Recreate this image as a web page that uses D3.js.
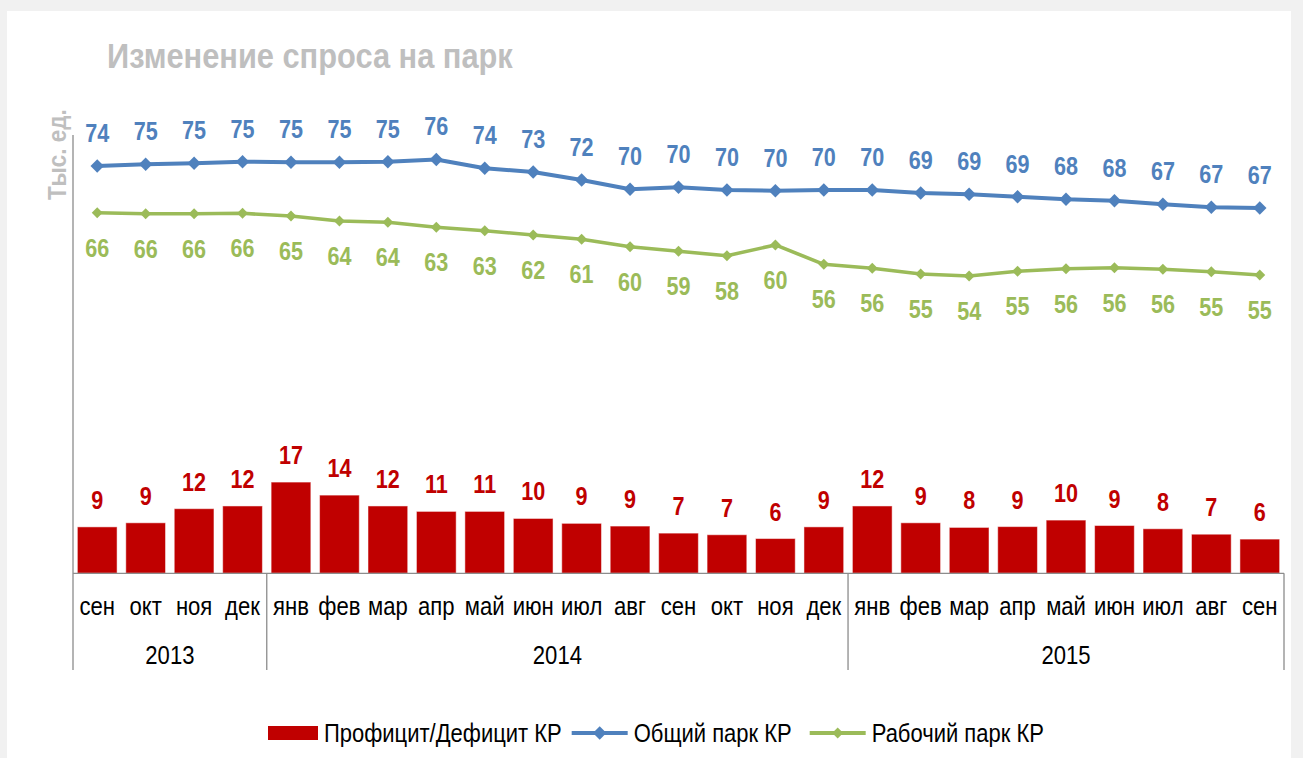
<!DOCTYPE html>
<html lang="ru">
<head>
<meta charset="utf-8">
<title>Изменение спроса на парк</title>
<script src="https://cdn.jsdelivr.net/npm/d3@7"></script>
<style>
  body { margin: 0; background: #f1f1f1; }
  svg { display: block; }
  text { font-family: "Liberation Sans Narrow", "Arial Narrow", "Liberation Sans", Arial, sans-serif; }
</style>
</head>
<body>
<svg width="1303" height="758"></svg>
<script>
// months Sep 2013 .. Sep 2015
var months = ["сен", "окт", "ноя", "дек",
              "янв", "фев", "мар", "апр", "май", "июн", "июл", "авг", "сен", "окт", "ноя", "дек",
              "янв", "фев", "мар", "апр", "май", "июн", "июл", "авг", "сен"];
var years = ["2013", "2014", "2015"];
var yearMonths = [4, 12, 9];

// тыс. ед.
var surplus = [8.55, 9.3, 11.9, 12.4, 16.8, 14.4, 12.4, 11.4, 11.4, 10.1, 9.2, 8.7, 7.4,
               7.1, 6.4, 8.55, 12.4, 9.3, 8.45, 8.6, 9.8, 8.8, 8.2, 7.2, 6.3];
var totalFleet = [74.35, 74.66, 74.85, 75.14, 75.03, 75.03, 75.14, 75.55, 73.94, 73.26, 71.81, 70.12, 70.48,
                  69.99, 69.86, 69.99, 69.99, 69.45, 69.21, 68.77, 68.3, 68.05, 67.39, 66.85, 66.72];
var workingFleet = [65.86, 65.68, 65.68, 65.75, 65.26, 64.35, 64.12, 63.21, 62.59, 61.81, 61.03, 59.68, 58.85,
                    58.05, 60.0, 56.48, 55.75, 54.72, 54.35, 55.21, 55.68, 55.86, 55.57, 55.14, 54.54];

var legendNames = ["Профицит/Дефицит КР", "Общий парк КР", "Рабочий парк КР"];

var red = "#c00000", blue = "#4f81bd", green = "#9bbb59", grey = "#bfbfbf", axisGrey = "#8c8c8c";

var svg = d3.select("svg");

// no narrow font in the sandbox -> squeeze regular text horizontally
var narrow = 0.83;
function at(px, py, k) {
  return "translate(" + px + "," + py + ") scale(" + (k || narrow) + ",1)";
}

svg.append("rect")
    .attr("x", 7).attr("y", 11)
    .attr("width", 1284).attr("height", 760)
    .attr("fill", "#fff");

var left = 73, right = 1284, base = 573.3, catBottom = 670;

var x = d3.scaleBand()
    .domain(d3.range(months.length))
    .range([left, right])
    .paddingInner(0.18)
    .paddingOuter(0.09);

var yBar = d3.scaleLinear().domain([0, 80]).range([base, base - 80 * 5.43]);
var yLine = d3.scaleLinear().domain([74.5, 54.5]).range([165.2, 165.2 + 20 * 5.5]);

var cx = function(i) { return x(i) + x.bandwidth() / 2; };

// title
svg.append("text")
    .attr("transform", at(107, 68, 0.88))
    .attr("fill", grey)
    .attr("font-size", 35).attr("font-weight", "bold")
    .text("Изменение спроса на парк");

svg.append("text")
    .attr("transform", "translate(66,200) rotate(-90) scale(0.9,1)")
    .attr("fill", grey)
    .attr("font-size", 25).attr("font-weight", "bold")
    .text("Тыс. ед.");

// bars
svg.append("g").selectAll("rect")
    .data(surplus)
  .enter().append("rect")
    .attr("x", function(d, i) { return x(i); })
    .attr("y", function(d) { return yBar(d); })
    .attr("width", x.bandwidth())
    .attr("height", function(d) { return base - yBar(d); })
    .attr("fill", red)
    .attr("stroke", "#fff").attr("stroke-opacity", 0.5);

svg.append("g").selectAll("text")
    .data(surplus)
  .enter().append("text")
    .attr("transform", function(d, i) { return at(cx(i), yBar(d) - 18); })
    .attr("text-anchor", "middle")
    .attr("fill", red)
    .attr("font-size", 26).attr("font-weight", "bold")
    .text(function(d) { return Math.round(d); });

// axes
var ax = svg.append("g").attr("stroke", axisGrey).attr("stroke-width", 1.3);
ax.append("line").attr("x1", left).attr("x2", left).attr("y1", 135).attr("y2", catBottom);
ax.append("line").attr("x1", left).attr("x2", right).attr("y1", base).attr("y2", base);
var acc = 0;
yearMonths.forEach(function(n) {
  acc += n;
  var xx = acc < months.length ? x(acc) - x.step() * x.paddingInner() / 2 : right;
  ax.append("line").attr("x1", xx).attr("x2", xx).attr("y1", base).attr("y2", catBottom);
});

svg.append("g").selectAll("text")
    .data(months)
  .enter().append("text")
    .attr("transform", function(d, i) { return at(cx(i), 615, 0.85); })
    .attr("text-anchor", "middle")
    .attr("fill", "#000")
    .attr("font-size", 26)
    .text(function(d) { return d; });

var start = 0;
years.forEach(function(yr, k) {
  var a = start === 0 ? left : x(start) - x.step() * x.paddingInner() / 2;
  start += yearMonths[k];
  var b = start < months.length ? x(start) - x.step() * x.paddingInner() / 2 : right;
  svg.append("text")
      .attr("transform", at((a + b) / 2, 664, 0.85))
      .attr("text-anchor", "middle")
      .attr("fill", "#000")
      .attr("font-size", 26)
      .text(yr);
});

// lines
var diamond = function(size) { return d3.symbol(d3.symbolSquare, size)(); };

function drawLine(values, color, width, mSize, dy) {
  var line = d3.line()
      .x(function(d, i) { return cx(i); })
      .y(function(d) { return yLine(d); });
  svg.append("path")
      .datum(values)
      .attr("fill", "none")
      .attr("stroke", color)
      .attr("stroke-width", width)
      .attr("stroke-linejoin", "round")
      .attr("d", line);
  svg.append("g").selectAll("path")
      .data(values)
    .enter().append("path")
      .attr("transform", function(d, i) { return "translate(" + cx(i) + "," + yLine(d) + ") rotate(45)"; })
      .attr("d", diamond(mSize))
      .attr("fill", color);
  svg.append("g").selectAll("text")
      .data(values)
    .enter().append("text")
      .attr("transform", function(d, i) { return at(cx(i), yLine(d) + dy); })
      .attr("text-anchor", "middle")
      .attr("fill", color)
      .attr("font-size", 26).attr("font-weight", "bold")
      .text(function(d) { return Math.round(d); });
}

drawLine(totalFleet, blue, 4, 90, -24);
drawLine(workingFleet, green, 3.6, 60, 44);

// legend
var lk = 0.88;
var lg = svg.append("g").attr("font-size", 25).attr("fill", "#000");
var lx = 268, ly = 733;
lg.append("rect").attr("x", lx).attr("y", ly - 7).attr("width", 50).attr("height", 14).attr("fill", red);
var t0 = lg.append("text").attr("transform", at(lx + 56, ly + 9, lk)).text(legendNames[0]);
lx = lx + 56 + t0.node().getComputedTextLength() * lk + 10;
[[blue, 90], [green, 60]].forEach(function(s, k) {
  lg.append("line").attr("x1", lx).attr("x2", lx + 56).attr("y1", ly).attr("y2", ly)
      .attr("stroke", s[0]).attr("stroke-width", 4);
  lg.append("path").attr("transform", "translate(" + (lx + 28) + "," + ly + ") rotate(45)")
      .attr("d", diamond(s[1])).attr("fill", s[0]);
  var t = lg.append("text").attr("transform", at(lx + 62, ly + 9, lk)).text(legendNames[k + 1]);
  lx = lx + 62 + t.node().getComputedTextLength() * lk + 18;
});
</script>
</body>
</html>
